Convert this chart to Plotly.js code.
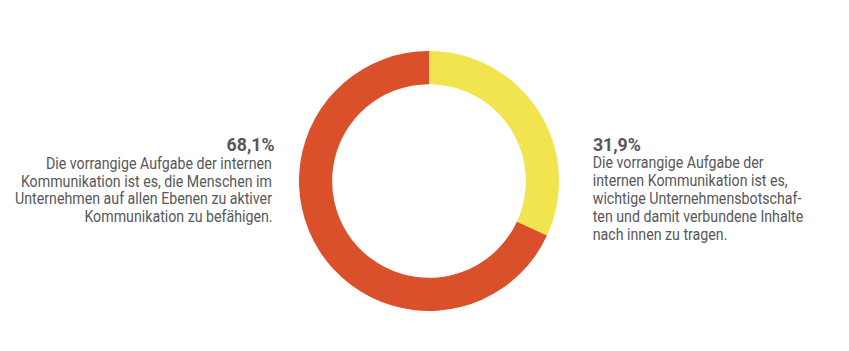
<!DOCTYPE html>
<html>
<head>
<meta charset="utf-8">
<script src="https://cdn.plot.ly/plotly-3.0.1.min.js"></script>
<style>html,body{margin:0;padding:0;background:#fff;}#chart{width:849px;height:351px;}</style>
</head>
<body>
<div id="chart"></div>
<script>
const categories = ["Botschaften nach innen tragen", "Menschen zu aktiver Kommunikation befähigen"];
const values = [31.9, 68.1];
const percentLabels = ["31,9%", "68,1%"];
const rightLines = [
  "Die vorrangige Aufgabe der",
  "internen Kommunikation ist es,",
  "wichtige Unternehmensbotschaf-",
  "ten und damit verbundene Inhalte",
  "nach innen zu tragen."
];
const leftLines = [
  "Die vorrangige Aufgabe der internen",
  "Kommunikation ist es, die Menschen im",
  "Unternehmen auf allen Ebenen zu aktiver",
  "Kommunikation zu befähigen."
];
const colors = ["#F2E44F", "#D9502A"];

const W = 849, H = 351;
const font = "Roboto, 'Liberation Sans', sans-serif";
const textColor = "#57575A";
const fs = 17;
function py(p) { return 1 - p / H; }
function px(p) { return p / W; }

const cx = 429, cy = 181, r = 130;
const annotations = [];
const baseR = [151, 168, 186, 204, 222, 240];
const baseL = [151, 169, 186.5, 204, 221.5];
const anchorRX = 591, anchorLX = 274, anchorLPX = 276;
annotations.push({x: px(anchorRX), y: py(baseR[0] - 6), xref: 'paper', yref: 'paper', xanchor: 'left', yanchor: 'middle',
  text: '<b>' + percentLabels[0] + '</b>', showarrow: false, font: {family: font, size: 19, color: textColor}});
rightLines.forEach((t, i) => annotations.push({x: px(anchorRX), y: py(baseR[i + 1] - 6), xref: 'paper', yref: 'paper',
  xanchor: 'left', yanchor: 'middle', text: t, showarrow: false, font: {family: font, size: fs, color: textColor}}));
annotations.push({x: px(anchorLPX), y: py(baseL[0] - 6), xref: 'paper', yref: 'paper', xanchor: 'right', yanchor: 'middle',
  text: '<b>' + percentLabels[1] + '</b>', showarrow: false, font: {family: font, size: 19, color: textColor}});
leftLines.forEach((t, i) => annotations.push({x: px(anchorLX), y: py(baseL[i + 1] - 6), xref: 'paper', yref: 'paper',
  xanchor: 'right', yanchor: 'middle', text: t, showarrow: false, font: {family: font, size: fs, color: textColor}}));

const data = [{
  type: 'pie',
  labels: categories,
  values: values,
  hole: 0.745,
  sort: false,
  direction: 'clockwise',
  rotation: 0,
  marker: {colors: colors, line: {width: 0}},
  textinfo: 'none',
  hoverinfo: 'none',
  showlegend: false,
  domain: {x: [px(cx - r), px(cx + r)], y: [py(cy + r), py(cy - r)]}
}];

const layout = {
  width: W, height: H,
  margin: {l: 0, r: 0, t: 0, b: 0},
  paper_bgcolor: '#fff', plot_bgcolor: '#fff',
  showlegend: false,
  annotations: annotations
};
Plotly.newPlot('chart', data, layout, {displayModeBar: false, staticPlot: true}).then(function (gd) {
  // condense the text horizontally to mimic the narrow typeface of the original
  const groups = gd.querySelectorAll('.annotation');
  const textWidthTarget = 226; // width of first left body line in the reference
  const pctWidthTarget = 48;
  let bodyScale = 1, pctScale = 1;
  groups.forEach(function (g, i) {
    const ann = annotations[i];
    const tg = g.querySelector('.annotation-text-g');
    const txt = tg.querySelector('text');
    const w = txt.getBBox().width;
    if (ann.text === leftLines[0]) bodyScale = textWidthTarget / w;
    if (ann.text.indexOf(percentLabels[1]) >= 0) pctScale = pctWidthTarget / w;
  });
  groups.forEach(function (g, i) {
    const ann = annotations[i];
    const tg = g.querySelector('.annotation-text-g');
    const txt = tg.querySelector('text');
    const s = ann.text.indexOf('<b>') === 0 ? pctScale : bodyScale;
    const ax = ann.x * W;
    const t = tg.getAttribute('transform') || '';
    // tg transform is in paper pixels; wrap with a scale about the anchor x
    tg.setAttribute('transform', 'translate(' + ax + ',0) scale(' + s + ',1) translate(' + (-ax) + ',0) ' + t);
  });
});
</script>
</body>
</html>
